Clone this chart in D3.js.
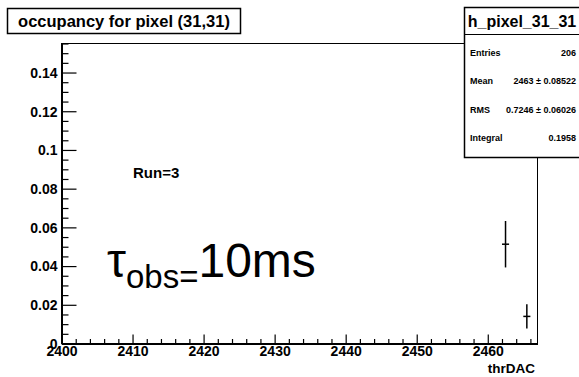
<!DOCTYPE html>
<html>
<head>
<meta charset="utf-8">
<script src="https://cdn.jsdelivr.net/npm/d3@7"></script>
<style>
  body { margin: 0; background: #fff; }
  text { font-family: "Liberation Sans", Arial, Helvetica, sans-serif; }
</style>
</head>
<body>
<div class="chart"></div>
<script>
// histogram content
var binCenters = [2462.5, 2465.5];
var binValues = [0.0513, 0.014];
var binErrors = [0.012, 0.0063];
var binHalfWidth = [0.5, 0.5];

// axes
var xRange = [2400, 2467];
var yRange = [0, 0.155];
var xMajorTicks = [2400, 2410, 2420, 2430, 2440, 2450, 2460];
var xMinorTicks = [2402, 2404, 2406, 2408, 2412, 2414, 2416, 2418, 2422, 2424, 2426, 2428,
                   2432, 2434, 2436, 2438, 2442, 2444, 2446, 2448, 2452, 2454, 2456, 2458,
                   2462, 2464, 2466];
var yMajorTicks = [0, 0.02, 0.04, 0.06, 0.08, 0.1, 0.12, 0.14];
var yMinorTicks = [0.005, 0.01, 0.015, 0.025, 0.03, 0.035, 0.045, 0.05, 0.055, 0.065, 0.07, 0.075,
                   0.085, 0.09, 0.095, 0.105, 0.11, 0.115, 0.125, 0.13, 0.135, 0.145, 0.15, 0.155];
var yTickLabels = ["0", "0.02", "0.04", "0.06", "0.08", "0.1", "0.12", "0.14"];

// stats box
var statsTitle = "h_pixel_31_31";
var statsNames = ["Entries", "Mean", "RMS", "Integral"];
var statsValues = ["206", "2463 \u00b1 0.08522", "0.7246 \u00b1 0.06026", "0.1958"];

var width = 579;
var height = 377;

//////// frame
var padLeft = 61.5, padRight = 537.5, padTop = 43.5, padBottom = 343.5;

var svg = d3.select(".chart")
    .append("svg")
    .attr("width", width)
    .attr("height", height);

var x = d3.scaleLinear().domain(xRange).range([padLeft, padRight]);
var y = d3.scaleLinear().domain(yRange).range([padBottom, padTop]);

// frame outline
svg.append("rect")
    .attr("x", padLeft)
    .attr("y", padTop)
    .attr("width", padRight - padLeft)
    .attr("height", padBottom - padTop)
    .attr("fill", "none")
    .attr("stroke", "#000")
    .attr("stroke-width", 1);

//////// x axis
var xAxis = svg.append("g")
    .attr("transform", "translate(0," + padBottom + ")")
    .call(d3.axisBottom(x)
        .tickValues(xMajorTicks)
        .tickFormat(d3.format("d"))
        .tickSizeInner(-9)
        .tickSizeOuter(0)
        .tickPadding(3));

svg.append("g")
    .attr("transform", "translate(0," + padBottom + ")")
    .call(d3.axisBottom(x)
        .tickValues(xMinorTicks)
        .tickFormat("")
        .tickSizeInner(-4.5)
        .tickSizeOuter(0));

//////// y axis
var yAxis = svg.append("g")
    .attr("transform", "translate(" + padLeft + ",0)")
    .call(d3.axisLeft(y)
        .tickValues(yMajorTicks)
        .tickFormat(function(d, i) { return yTickLabels[i]; })
        .tickSizeInner(-15)
        .tickSizeOuter(0)
        .tickPadding(4));

svg.append("g")
    .attr("transform", "translate(" + padLeft + ",0)")
    .call(d3.axisLeft(y)
        .tickValues(yMinorTicks)
        .tickFormat("")
        .tickSizeInner(-7)
        .tickSizeOuter(0));

svg.selectAll(".domain")
    .attr("stroke-width", 2);

svg.selectAll(".tick line")
    .attr("stroke-width", 1.2);

svg.selectAll(".tick text")
    .attr("font-size", "14px")
    .attr("font-weight", "bold")
    .attr("fill", "#000");

yAxis.selectAll(".tick text")
    .attr("dy", "0.34em");

// axis title
svg.append("text")
    .attr("x", 535)
    .attr("y", 373)
    .attr("text-anchor", "end")
    .attr("font-size", "13.5px")
    .attr("font-weight", "bold")
    .text("thrDAC");

//////// data points with error bars
var pts = svg.append("g");
binCenters.forEach(function(c, i) {
    pts.append("line")
        .attr("x1", x(c)).attr("x2", x(c))
        .attr("y1", y(binValues[i] - binErrors[i]))
        .attr("y2", y(binValues[i] + binErrors[i]))
        .attr("stroke", "#000")
        .attr("stroke-width", 1.5);
    pts.append("line")
        .attr("x1", x(c - binHalfWidth[i])).attr("x2", x(c + binHalfWidth[i]))
        .attr("y1", y(binValues[i])).attr("y2", y(binValues[i]))
        .attr("stroke", "#000")
        .attr("stroke-width", 1.5);
});

//////// text labels
svg.append("text")
    .attr("x", 133)
    .attr("y", 178)
    .attr("font-size", "15px")
    .attr("font-weight", "bold")
    .text("Run=3");

var tau = svg.append("text")
    .attr("x", 107)
    .attr("y", 277)
    .attr("font-size", "48px");
tau.append("tspan").text("\u03c4");
tau.append("tspan")
    .attr("font-size", "33px")
    .attr("dy", 11)
    .text("obs=");
tau.append("tspan")
    .attr("dy", -11)
    .text("10ms");

//////// title box
svg.append("rect")
    .attr("x", 7.5)
    .attr("y", 8.5)
    .attr("width", 233)
    .attr("height", 25)
    .attr("fill", "#fff")
    .attr("stroke", "#000")
    .attr("stroke-width", 1.5);

svg.append("text")
    .attr("x", 124)
    .attr("y", 27)
    .attr("text-anchor", "middle")
    .attr("font-size", "16.5px")
    .attr("font-weight", "bold")
    .text("occupancy for pixel (31,31)");

//////// stats box
var stats = svg.append("g");
stats.append("rect")
    .attr("x", 464.5)
    .attr("y", 7.5)
    .attr("width", 120)
    .attr("height", 150)
    .attr("fill", "#fff")
    .attr("stroke", "#000")
    .attr("stroke-width", 1.5);

stats.append("line")
    .attr("x1", 464.5).attr("x2", 579)
    .attr("y1", 34.5).attr("y2", 34.5)
    .attr("stroke", "#000")
    .attr("stroke-width", 1);

stats.append("text")
    .attr("x", 522)
    .attr("y", 27)
    .attr("text-anchor", "middle")
    .attr("font-size", "16px")
    .attr("font-weight", "bold")
    .text(statsTitle);

var rowY = d3.scalePoint().domain(statsNames).range([56, 141]);

stats.selectAll(".sname")
    .data(statsNames)
    .enter()
    .append("text")
    .attr("x", 470)
    .attr("y", function(d) { return rowY(d); })
    .attr("font-size", "9px")
    .attr("font-weight", "bold")
    .text(function(d) { return d; });

stats.selectAll(".sval")
    .data(statsValues)
    .enter()
    .append("text")
    .attr("x", 576)
    .attr("y", function(d, i) { return rowY(statsNames[i]); })
    .attr("text-anchor", "end")
    .attr("font-size", "9px")
    .attr("font-weight", "bold")
    .text(function(d) { return d; });
</script>
</body>
</html>
